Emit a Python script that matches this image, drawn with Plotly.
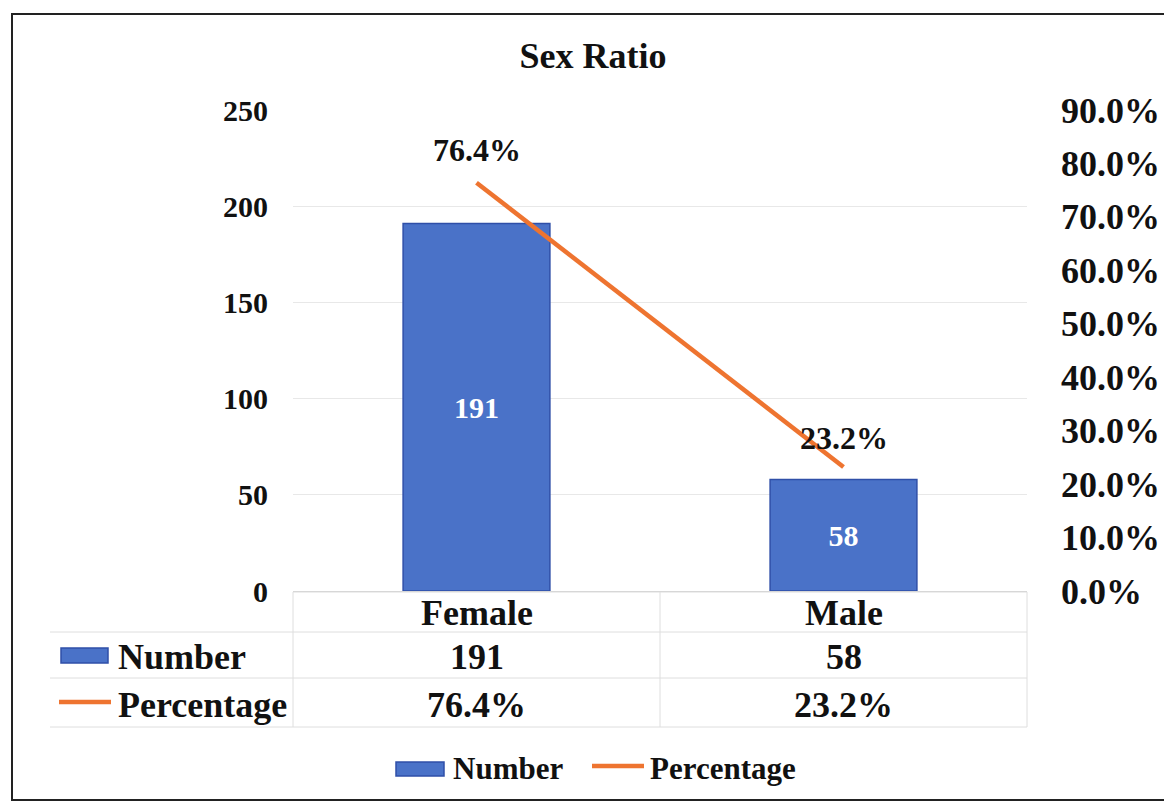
import plotly.graph_objs as go

# data
categories = ["Female", "Male"]
numbers = [191, 58]
percentages = [0.764, 0.232]
series_names = ["Number", "Percentage"]
title = "Sex Ratio"

BAR_COLOR = "#4A72C8"
BAR_EDGE = "#2F4FA8"
LINE_COLOR = "#EE7430"
TEXT = "#111111"
GRID = "#E8E8E8"
FONT = "Liberation Serif, Times New Roman, serif"

W, H = 1172, 803
OFF = 8  # page body margin
L, R, T, B = 293, 1027, 110, 591


def px(x):
    return (x - L) / (R - L)


def py(y):
    return (B - y) / (B - T)


def bold(size, color=TEXT):
    return dict(family=FONT, size=size, color=color, weight="bold")


fig = go.Figure()

fig.add_trace(
    go.Bar(
        x=categories,
        y=numbers,
        name=series_names[0],
        marker=dict(color=BAR_COLOR, line=dict(color=BAR_EDGE, width=1.5)),
        text=[str(v) for v in numbers],
        textposition="inside",
        insidetextanchor="middle",
        textfont=bold(30, "white"),
        showlegend=False,
    )
)

fig.add_trace(
    go.Scatter(
        x=categories,
        y=percentages,
        name=series_names[1],
        mode="lines",
        yaxis="y2",
        line=dict(color=LINE_COLOR, width=4.5),
        showlegend=False,
    )
)

annotations = []
shapes = []

# labels above the line points
for cat, p, shift in zip(categories, percentages, [33, 29]):
    annotations.append(dict(
        x=cat, y=p, xref="x", yref="y2", yshift=shift,
        xanchor="center", yanchor="middle",
        text=f"{p:.1%}", showarrow=False, font=bold(32),
    ))

# data table below the plot
row_y = [613, 657, 705]
for i, cat in enumerate(categories):
    cells = [cat, str(numbers[i]), f"{percentages[i]:.1%}"]
    for txt, yy in zip(cells, row_y):
        annotations.append(dict(
            x=cat, y=py(yy), xref="x", yref="paper", text=txt,
            xanchor="center", yanchor="middle",
            showarrow=False, font=bold(36),
        ))

for name, yy in zip(series_names, row_y[1:]):
    annotations.append(dict(
        x=px(116), y=py(yy), xref="paper", yref="paper", text=name,
        xanchor="left", yanchor="middle", showarrow=False, font=bold(36),
    ))

# table keys
shapes.append(dict(type="rect", xref="paper", yref="paper",
                   x0=px(61), x1=px(108), y0=py(663), y1=py(648),
                   fillcolor=BAR_COLOR, line=dict(color=BAR_EDGE, width=1.5)))
shapes.append(dict(type="line", xref="paper", yref="paper",
                   x0=px(59), x1=px(111), y0=py(702), y1=py(702),
                   line=dict(color=LINE_COLOR, width=4.5)))

# table grid
for yy, x0 in [(592, 293), (632, 50), (678, 50), (727, 50)]:
    shapes.append(dict(type="line", xref="paper", yref="paper",
                       x0=px(x0), x1=px(1027), y0=py(yy), y1=py(yy),
                       line=dict(color="#DEDEDE", width=1)))
for xx in [293, 660, 1027]:
    shapes.append(dict(type="line", xref="paper", yref="paper",
                       x0=px(xx), x1=px(xx), y0=py(592), y1=py(727),
                       line=dict(color="#DEDEDE", width=1)))

# bottom legend
shapes.append(dict(type="rect", xref="paper", yref="paper",
                   x0=px(396), x1=px(444), y0=py(776), y1=py(762),
                   fillcolor=BAR_COLOR, line=dict(color=BAR_EDGE, width=1.5)))
shapes.append(dict(type="line", xref="paper", yref="paper",
                   x0=px(592), x1=px(644), y0=py(766), y1=py(766),
                   line=dict(color=LINE_COLOR, width=4.5)))
for name, xx in zip(series_names, [451, 648]):
    annotations.append(dict(
        x=px(xx), y=py(768), xref="paper", yref="paper", text=name,
        xanchor="left", yanchor="middle", showarrow=False, font=bold(31),
    ))

# outer frame of the scanned chart
shapes.append(dict(type="rect", xref="paper", yref="paper",
                   x0=px(12), x1=px(1190), y0=py(800), y1=py(14),
                   line=dict(color="#222222", width=2)))

fig.update_layout(
    width=W,
    height=H,
    margin=dict(l=L - OFF, r=W - (R - OFF), t=T - OFF, b=H - (B - OFF)),
    paper_bgcolor="white",
    plot_bgcolor="white",
    font=dict(family=FONT, color=TEXT, weight="bold"),
    title=dict(text=title, x=(593 - OFF) / W, xref="container", xanchor="center",
               y=1 - (55 - OFF) / H, yref="container", yanchor="middle",
               font=bold(36)),
    bargap=0.6,
    showlegend=False,
    xaxis=dict(showticklabels=False, showgrid=False, zeroline=False,
               showline=True, linecolor="#D0D0D0", linewidth=1,
               range=[-0.5, 1.5]),
    yaxis=dict(range=[0, 250], dtick=50, showgrid=True, gridcolor=GRID,
               gridwidth=1, zeroline=False, showline=False,
               ticklabelstandoff=24, tickfont=bold(30)),
    yaxis2=dict(range=[0, 0.9], dtick=0.1, tickformat=".1%", overlaying="y",
                side="right", showgrid=False, zeroline=False, showline=False,
                ticklabelstandoff=33, tickfont=bold(36)),
    annotations=annotations,
    shapes=shapes,
)

fig.write_html("out.html")
